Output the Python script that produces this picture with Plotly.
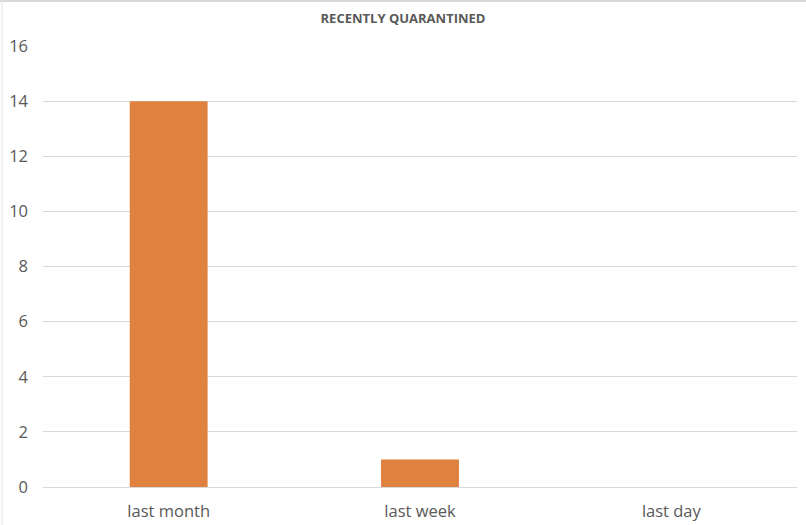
import plotly.graph_objects as go

# chart data
periods = ["last month", "last week", "last day"]
quarantined = [14, 1, 0]
y_ticks = [0, 2, 4, 6, 8, 10, 12, 14, 16]

fig = go.Figure()

fig.add_trace(
    go.Bar(
        x=periods,
        y=quarantined,
        marker=dict(color="#E0823F", line=dict(width=0)),
        width=0.31,
    )
)

fig.update_layout(
    width=806,
    height=525,
    margin=dict(l=43, r=9, t=46, b=38),
    paper_bgcolor="white",
    plot_bgcolor="white",
    showlegend=False,
    font=dict(family="Open Sans, sans-serif", color="#595959"),
    title=dict(
        text="<b>RECENTLY QUARANTINED</b>",
        x=0.5,
        xanchor="center",
        y=1 - 18 / 525,
        yanchor="middle",
        font=dict(size=13, color="#595959"),
    ),
)

fig.update_xaxes(
    showgrid=False,
    showline=False,
    ticks="",
    automargin=False,
    ticklabelstandoff=12,
    tickfont=dict(size=16.5, color="#595959"),
)
fig.update_yaxes(
    range=[0, 16],
    tickvals=y_ticks,
    showgrid=True,
    gridcolor="#D9D9D9",
    gridwidth=1,
    zeroline=True,
    zerolinecolor="#D9D9D9",
    zerolinewidth=1,
    showline=False,
    ticks="",
    automargin=False,
    ticklabelstandoff=14,
    tickfont=dict(size=16.5, color="#595959"),
)

# thin frame lines of the chart box (top and left)
fig.add_shape(type="line", xref="paper", yref="paper",
              x0=-43 / 754, x1=1 + 9 / 754, y0=1 + 45 / 441, y1=1 + 45 / 441,
              line=dict(color="#D9D9D9", width=2))
fig.add_shape(type="line", xref="paper", yref="paper",
              x0=-41 / 754, x1=-41 / 754, y0=-38 / 441, y1=1 + 46 / 441,
              line=dict(color="#E5E5E5", width=1))

# drop the default page margin so the chart sits at the window corner
fig.write_html(
    "out.html",
    config={"displayModeBar": False, "responsive": False},
    post_script="document.body.style.margin='0';document.body.style.overflow='hidden';",
)
